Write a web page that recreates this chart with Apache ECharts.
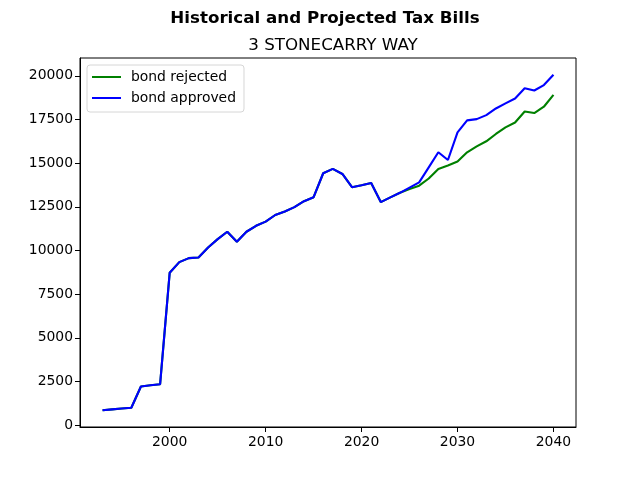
<!DOCTYPE html>
<html>
<head>
<meta charset="utf-8">
<script src="https://cdn.jsdelivr.net/npm/echarts@6/dist/echarts.min.js"></script>
<style>
html,body{margin:0;padding:0;background:#fff;}
#chart{width:640px;height:480px;}
</style>
</head>
<body>
<div id="chart"></div>
<script>
const years = [];
for (let y = 1993; y <= 2040; y++) years.push(y);

const bondApproved = [
  850, 900, 950, 990, 2210, 2280, 2340, 8725, 9330, 9560,
  9600, 10170, 10650, 11070, 10500, 11070, 11410, 11650, 12030, 12230,
  12480, 12820, 13050, 14420, 14670, 14380, 13620, 13730, 13860, 12770,
  13040, 13300, 13600, 13900, 14760, 15620, 15180, 16760, 17450, 17520,
  17750, 18130, 18420, 18700, 19290, 19160, 19470, 20060
];
const bondRejected = [
  850, 900, 950, 990, 2210, 2280, 2340, 8725, 9330, 9560,
  9600, 10170, 10650, 11070, 10500, 11070, 11410, 11650, 12030, 12230,
  12480, 12820, 13050, 14420, 14670, 14380, 13620, 13730, 13860, 12770,
  13040, 13300, 13520, 13710, 14120, 14670, 14860, 15090, 15620, 15960,
  16250, 16670, 17050, 17330, 17960, 17870, 18230, 18910
];
const xTicks = [2000, 2010, 2020, 2030, 2040];
const yTicks = [0, 2500, 5000, 7500, 10000, 12500, 15000, 17500, 20000];

const font = 'DejaVu Sans';
const chart = echarts.init(document.getElementById('chart'), null, {renderer: 'canvas'});
chart.setOption({
  animation: false,
  backgroundColor: '#ffffff',
  title: [
    {text: 'Historical and Projected Tax Bills', left: 320, textAlign: 'center', top: 5,
     textStyle: {fontFamily: font, fontWeight: 'bold', fontSize: 16.7, color: '#000'}},
    {text: '3 STONECARRY WAY', left: 328, textAlign: 'center', top: 32,
     textStyle: {fontFamily: font, fontWeight: 'normal', fontSize: 16.7, color: '#000'}}
  ],
  legend: {
    orient: 'vertical', left: 87, top: 65,
    padding: [5, 8, 7, 5],
    itemGap: 7, itemWidth: 29, itemHeight: 2, icon: 'rect',
    borderColor: '#d6d6d6', borderWidth: 1, borderRadius: 3,
    backgroundColor: 'rgba(255,255,255,0.8)',
    textStyle: {fontFamily: font, fontSize: 13.9, color: '#000', padding: [0, 0, 0, 5]},
    data: ['bond rejected', 'bond approved']
  },
  grid: {left: 80, right: 64, top: 58, bottom: 53, show: true, borderColor: '#000', borderWidth: 1, containLabel: false},
  xAxis: {
    type: 'value', min: 1990.65, max: 2042.35,
    axisLine: {show: true, onZero: false, lineStyle: {color: '#000', width: 1}},
    splitLine: {show: false},
    axisTick: {show: true, length: 5, lineStyle: {color: '#000'}, customValues: xTicks},
    axisLabel: {fontFamily: font, fontSize: 13.9, color: '#000', margin: 8, customValues: xTicks,
      formatter: v => String(v)}
  },
  yAxis: {
    type: 'value', min: -110, max: 21020,
    axisLine: {show: true, onZero: false, lineStyle: {color: '#000', width: 1}},
    splitLine: {show: false},
    axisTick: {show: true, length: 5, lineStyle: {color: '#000'}, customValues: yTicks},
    axisLabel: {fontFamily: font, fontSize: 13.9, color: '#000', margin: 7, customValues: yTicks,
      formatter: v => String(v)}
  },
  series: [
    {name: 'bond rejected', type: 'line', showSymbol: false, symbol: 'none',
     itemStyle: {color: '#008000'}, lineStyle: {color: '#008000', width: 2.1},
     data: years.map((y, i) => [y, bondRejected[i]])},
    {name: 'bond approved', type: 'line', showSymbol: false, symbol: 'none',
     itemStyle: {color: '#0000ff'}, lineStyle: {color: '#0000ff', width: 2.1},
     data: years.map((y, i) => [y, bondApproved[i]])}
  ]
});
</script>
</body>
</html>
